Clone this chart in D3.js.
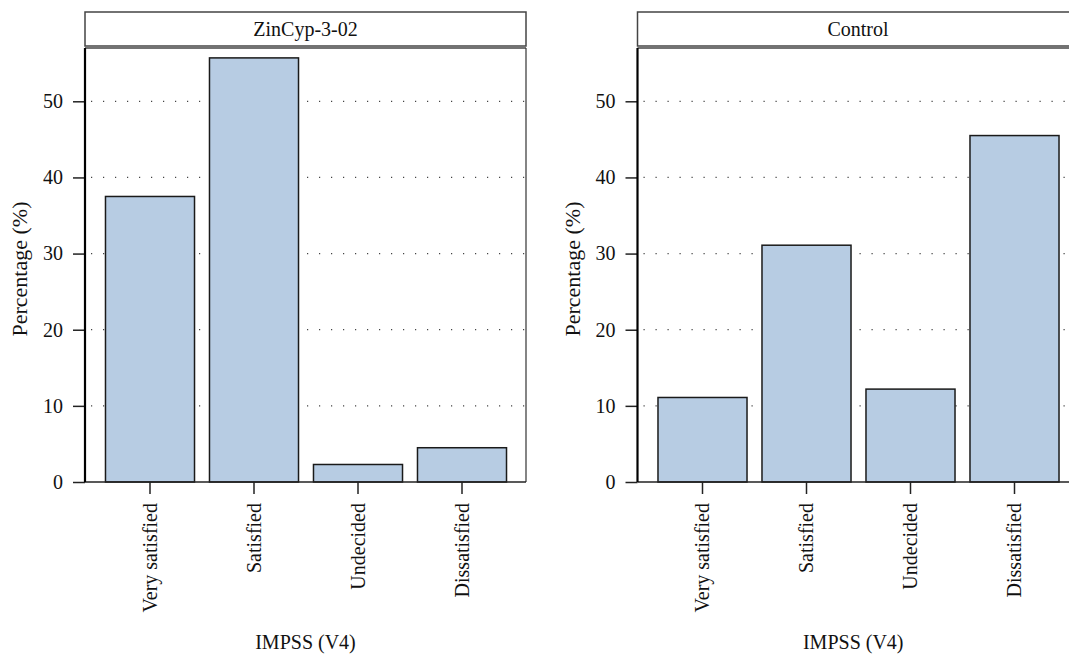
<!DOCTYPE html>
<html>
<head>
<meta charset="utf-8">
<script src="https://cdn.jsdelivr.net/npm/d3@7"></script>
<style>
  body { margin: 0; background: #fff; }
  svg { display: block; font-family: "Liberation Serif", "DejaVu Serif", serif; }
  .axis { font-family: "Liberation Serif", "DejaVu Serif", serif; }
  .tick text { font-size: 20px; fill: #111; }
</style>
</head>
<body>
<div id="chart-area"></div>
<script>
// Data
let categories = ["Very satisfied", "Satisfied", "Undecided", "Dissatisfied"];
let panelNames = ["ZinCyp-3-02", "Control"];
let zincypValues = [37.5, 55.7, 2.3, 4.5];
let controlValues = [11.1, 31.1, 12.2, 45.5];
let yTicks = [0, 10, 20, 30, 40, 50];

let seriesByPanel = [zincypValues, controlValues];

// Layout
let W = 1069, H = 654;
let panelLeft = [85, 637.5],
    panelWidth = 441,
    stripTop = 12,
    stripBottom = 46,
    panelTop = 48,
    panelBottom = 482;

let svg = d3.select("#chart-area").append("svg")
    .attr("width", W)
    .attr("height", H);

let y = d3.scaleLinear()
    .domain([0, 57])
    .range([panelBottom, panelTop]);

let x = d3.scaleBand()
    .domain(categories)
    .range([13, 429])
    .paddingInner(0.144)
    .paddingOuter(0.072);

panelNames.forEach((name, p) => {
    let values = seriesByPanel[p];
    let data = categories.map((c, i) => ({cat: c, value: values[i]}));

    let g = svg.append("g")
        .attr("transform", "translate(" + panelLeft[p] + ",0)");

    // Strip
    g.append("rect")
        .attr("x", 0)
        .attr("y", stripTop)
        .attr("width", panelWidth)
        .attr("height", stripBottom - stripTop)
        .attr("fill", "#fff")
        .attr("stroke", "#444")
        .attr("stroke-width", 1.5);

    g.append("text")
        .attr("x", panelWidth / 2)
        .attr("y", (stripTop + stripBottom) / 2)
        .attr("dy", "0.33em")
        .attr("text-anchor", "middle")
        .style("font-size", "20px")
        .attr("fill", "#111")
        .text(name);

    // Gridlines
    g.selectAll(".grid")
        .data(yTicks.filter(d => d > 0))
        .enter()
        .append("line")
        .attr("class", "grid")
        .attr("x1", 6)
        .attr("x2", panelWidth)
        .attr("y1", d => y(d))
        .attr("y2", d => y(d))
        .attr("stroke", "#444")
        .attr("stroke-width", 1.2)
        .attr("stroke-dasharray", "1.2,10.8");

    // Bars
    g.selectAll(".bar")
        .data(data)
        .enter()
        .append("rect")
        .attr("class", "bar")
        .attr("x", d => x(d.cat))
        .attr("y", d => y(d.value))
        .attr("width", x.bandwidth())
        .attr("height", d => panelBottom - y(d.value))
        .attr("fill", "#b7cce3")
        .attr("stroke", "#1a1a1a")
        .attr("stroke-width", 1.5);

    // Panel border (top, right)
    g.append("line")
        .attr("x1", 0).attr("x2", panelWidth)
        .attr("y1", panelTop).attr("y2", panelTop)
        .attr("stroke", "#444").attr("stroke-width", 1.5);
    g.append("line")
        .attr("x1", panelWidth).attr("x2", panelWidth)
        .attr("y1", panelTop).attr("y2", panelBottom)
        .attr("stroke", "#333").attr("stroke-width", 1.2);

    // Axes
    let yAxis = d3.axisLeft(y)
        .tickValues(yTicks)
        .tickSize(12)
        .tickSizeOuter(0)
        .tickPadding(10);

    let yAxisGroup = g.append("g")
        .attr("class", "y-axis axis")
        .call(yAxis)
        .attr("font-family", null)
        .attr("font-size", null);
    yAxisGroup.select(".domain").remove();
    yAxisGroup.selectAll(".tick line").attr("stroke", "#222").attr("stroke-width", 1.5);

    let xAxis = d3.axisBottom(x)
        .tickSize(12)
        .tickSizeOuter(0);

    let xAxisGroup = g.append("g")
        .attr("class", "x-axis axis")
        .attr("transform", "translate(0," + panelBottom + ")")
        .call(xAxis)
        .attr("font-family", null)
        .attr("font-size", null);
    xAxisGroup.select(".domain").remove();
    xAxisGroup.selectAll(".tick line").attr("stroke", "#222").attr("stroke-width", 1.5);
    xAxisGroup.selectAll(".tick text")
        .attr("transform", "rotate(-90)")
        .attr("x", -21)
        .attr("y", 0)
        .attr("dy", "0.33em")
        .style("text-anchor", "end");

    g.append("line")
        .attr("x1", 0).attr("x2", panelWidth)
        .attr("y1", panelBottom).attr("y2", panelBottom)
        .attr("stroke", "#222").attr("stroke-width", 1.5);
    g.append("line")
        .attr("x1", 0).attr("x2", 0)
        .attr("y1", panelTop).attr("y2", panelBottom)
        .attr("stroke", "#000").attr("stroke-width", 2.2);

    // Axis titles
    g.append("text")
        .attr("class", "axis-title")
        .attr("transform", "translate(" + (-58) + "," + ((panelTop + panelBottom) / 2 + 4) + ") rotate(-90)")
        .attr("text-anchor", "middle")
        .style("font-size", "22px")
        .attr("fill", "#111")
        .text("Percentage (%)");

    g.append("text")
        .attr("class", "axis-title")
        .attr("x", Math.min(panelWidth, W - panelLeft[p]) / 2)
        .attr("y", 649)
        .attr("text-anchor", "middle")
        .style("font-size", "20px")
        .attr("fill", "#111")
        .text("IMPSS (V4)");
});
</script>
</body>
</html>
